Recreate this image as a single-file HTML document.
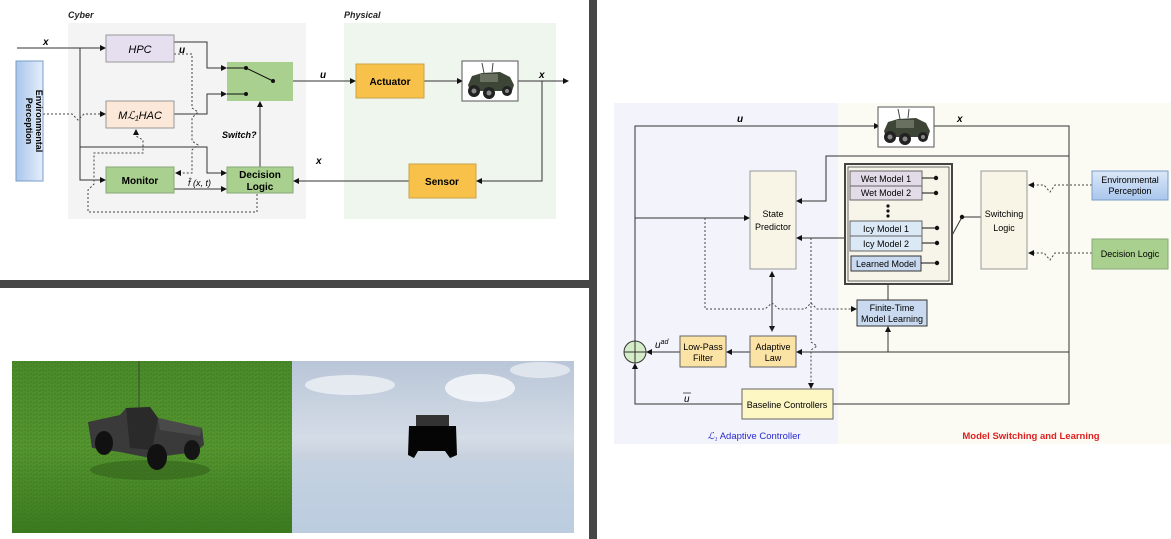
<!DOCTYPE html>
<html><head><meta charset="utf-8"><style>
html,body{margin:0;padding:0;background:#fff;}
svg{display:block;}
text{font-family:"Liberation Sans",sans-serif;}
</style></head><body>
<svg width="1171" height="539" viewBox="0 0 1171 539" xmlns="http://www.w3.org/2000/svg">
<defs>
<marker id="a" markerWidth="6" markerHeight="6" refX="5" refY="3" orient="auto" markerUnits="userSpaceOnUse"><path d="M0,0 L6,3 L0,6 z" fill="#111"/></marker>
<linearGradient id="env" x1="0" y1="0" x2="1" y2="0"><stop offset="0" stop-color="#a9c6ec"/><stop offset="1" stop-color="#e4eefa"/></linearGradient>
<linearGradient id="env2" x1="0" y1="0" x2="0" y2="1"><stop offset="0" stop-color="#dce8f8"/><stop offset="1" stop-color="#a9c6ec"/></linearGradient>
<linearGradient id="grass" x1="0" y1="0" x2="0" y2="1"><stop offset="0" stop-color="#4a8a2a"/><stop offset="0.5" stop-color="#55952f"/><stop offset="1" stop-color="#3c7a20"/></linearGradient>
<linearGradient id="sky" x1="0" y1="0" x2="0" y2="1"><stop offset="0" stop-color="#b9c6d8"/><stop offset="0.45" stop-color="#d4dce6"/><stop offset="0.55" stop-color="#c8d2de"/><stop offset="1" stop-color="#b6c8dc"/></linearGradient>
<pattern id="gt" width="6" height="4" patternUnits="userSpaceOnUse"><rect width="6" height="4" fill="none"/><path d="M0,3 L2,1 M3,4 L5,2" stroke="#2f6a18" stroke-width="0.8" opacity="0.5"/></pattern>
<g id="car">
<rect x="0" y="0" width="56" height="40" fill="#fff" stroke="#555"/>
<path d="M6,24 L10,15 L20,12 L38,11 L48,16 L52,24 L50,30 L8,30 z" fill="#3d4536"/>
<rect x="18" y="13" width="18" height="8" fill="#6a7060"/>
<circle cx="12" cy="30" r="6" fill="#222"/><circle cx="27" cy="32" r="6" fill="#222"/><circle cx="45" cy="30" r="5" fill="#222"/>
<circle cx="12" cy="30" r="2.5" fill="#888"/><circle cx="27" cy="32" r="2.5" fill="#888"/><circle cx="45" cy="30" r="2" fill="#888"/>
<line x1="22" y1="12" x2="20" y2="2" stroke="#444"/><line x1="30" y1="11" x2="31" y2="2" stroke="#444"/>
</g>
</defs>

<rect x="0" y="280" width="590" height="8" fill="#464646"/>
<rect x="589" y="0" width="8" height="539" fill="#464646"/>

<rect x="68" y="23" width="238" height="196" fill="#f4f4f4"/>
<rect x="344" y="23" width="212" height="196" fill="#eff6ee"/>
<text x="68" y="18" font-size="9" font-weight="bold" font-style="italic" fill="#222">Cyber</text>
<text x="344" y="18" font-size="9" font-weight="bold" font-style="italic" fill="#222">Physical</text>

<g stroke="#333" stroke-width="1" fill="none">
<line x1="17" y1="48" x2="105" y2="48" marker-end="url(#a)"/>
<polyline points="80,48 80,180 105,180" marker-end="url(#a)"/>
<polyline points="80,147 207,147 207,173 226,173" marker-end="url(#a)"/>
<polyline points="174,42 207,42 207,68 226,68" marker-end="url(#a)"/>
<polyline points="174,114 207,114 207,94 226,94" marker-end="url(#a)"/>
<line x1="273" y1="81" x2="355" y2="81" marker-end="url(#a)"/>
<line x1="424" y1="81" x2="462" y2="81" marker-end="url(#a)"/>
<line x1="518" y1="81" x2="568" y2="81" marker-end="url(#a)"/>
<polyline points="542,81 542,181 477,181" marker-end="url(#a)"/>
<line x1="409" y1="181" x2="294" y2="181" marker-end="url(#a)"/>
<line x1="260" y1="167" x2="260" y2="102" marker-end="url(#a)"/>
<line x1="174" y1="189" x2="226" y2="189" marker-end="url(#a)"/>
</g>
<g stroke="#444" stroke-width="1" fill="none" stroke-dasharray="2,2">
<polyline points="43,114 72,114 78,120 84,114 105,114" marker-end="url(#a)"/>
<polyline points="174,54 192,54 192,108 198,112 192,118 192,141 198,145 192,150 192,173 176,173" marker-end="url(#a)"/>
<polyline points="257,194 257,212 88,212 88,190 94,184 94,153 143,153 143,140 136,136 136,130" marker-end="url(#a)"/>
</g>

<rect x="106" y="35" width="68" height="27" fill="#e6dff0" stroke="#999"/>
<text x="140" y="53" font-size="11" font-style="italic" text-anchor="middle" font-family="Liberation Serif,serif">HPC</text>
<rect x="106" y="101" width="68" height="27" fill="#fbe8d8" stroke="#999"/>
<text x="140" y="119" font-size="11" font-style="italic" text-anchor="middle" font-family="Liberation Serif,serif">Mℒ₁HAC</text>
<rect x="106" y="167" width="68" height="26" fill="#a9d08e" stroke="#88a878"/>
<text x="140" y="184" font-size="10" font-weight="bold" text-anchor="middle">Monitor</text>
<rect x="227" y="167" width="66" height="26" fill="#a9d08e" stroke="#88a878"/>
<text x="260" y="178" font-size="10" font-weight="bold" text-anchor="middle">Decision</text>
<text x="260" y="190" font-size="10" font-weight="bold" text-anchor="middle">Logic</text>
<rect x="227" y="62" width="66" height="39" fill="#a9d08e"/>
<g stroke="#111"><line x1="227" y1="68" x2="246" y2="68"/><line x1="227" y1="94" x2="246" y2="94"/><line x1="246" y1="68" x2="273" y2="81"/></g>
<circle cx="246" cy="68" r="2" fill="#111"/><circle cx="246" cy="94" r="2" fill="#111"/><circle cx="273" cy="81" r="2" fill="#111"/>
<rect x="356" y="64" width="68" height="34" fill="#f7c14a" stroke="#c9a24a"/>
<text x="390" y="85" font-size="10" font-weight="bold" text-anchor="middle">Actuator</text>
<rect x="409" y="164" width="67" height="34" fill="#f7c14a" stroke="#c9a24a"/>
<text x="442" y="185" font-size="10" font-weight="bold" text-anchor="middle">Sensor</text>
<use href="#car" x="462" y="61"/>
<rect x="16" y="61" width="27" height="120" fill="url(#env)" stroke="#7a9cc8"/>
<text transform="translate(36,121) rotate(90)" font-size="9" font-weight="bold" text-anchor="middle">Environmental</text>
<text transform="translate(26,121) rotate(90)" font-size="9" font-weight="bold" text-anchor="middle">Perception</text>
<text x="43" y="45" font-size="10" font-weight="bold" font-style="italic">x</text>
<text x="179" y="53" font-size="10" font-weight="bold" font-style="italic">u</text>
<text x="320" y="78" font-size="10" font-weight="bold" font-style="italic">u</text>
<text x="539" y="78" font-size="10" font-weight="bold" font-style="italic">x</text>
<text x="316" y="164" font-size="10" font-weight="bold" font-style="italic">x</text>
<text x="222" y="138" font-size="9" font-weight="bold" font-style="italic">Switch?</text>
<text x="188" y="186" font-size="9" font-style="italic" font-family="Liberation Serif,serif">f̂ (x, t)</text>

<rect x="12" y="361" width="280" height="172" fill="url(#grass)"/>
<rect x="12" y="361" width="280" height="172" fill="url(#gt)"/>
<line x1="139" y1="361" x2="139" y2="410" stroke="#333" stroke-width="0.7"/>
<ellipse cx="150" cy="470" rx="60" ry="10" fill="#2e5a18" opacity="0.5"/>
<path d="M88,422 L120,415 L126,408 L150,407 L158,418 L202,428 L204,445 L195,452 L150,458 L120,452 L92,448 z" fill="#3a3a3a"/>
<path d="M126,408 L150,407 L158,418 L152,450 L130,448 z" fill="#2a2a2a"/>
<path d="M158,418 L202,428 L200,436 L160,430 z" fill="#4a4a4a"/>
<ellipse cx="104" cy="443" rx="9" ry="12" fill="#111"/>
<ellipse cx="157" cy="457" rx="10" ry="13" fill="#111"/>
<ellipse cx="192" cy="450" rx="8" ry="10" fill="#151515"/>
<rect x="292" y="361" width="282" height="172" fill="url(#sky)"/>
<ellipse cx="350" cy="385" rx="45" ry="10" fill="#eef1f5" opacity="0.8"/>
<ellipse cx="480" cy="388" rx="35" ry="14" fill="#f3f5f8" opacity="0.9"/>
<ellipse cx="540" cy="370" rx="30" ry="8" fill="#eef1f5" opacity="0.7"/>
<rect x="292" y="460" width="282" height="73" fill="#c2d2e4" opacity="0.5"/>
<rect x="416" y="415" width="33" height="12" fill="#333"/>
<path d="M409,426 L456,426 L457,455 L450,458 L445,451 L418,451 L414,458 L408,455 z" fill="#050505"/>

<rect x="614" y="103" width="224" height="341" fill="#f3f3fb"/>
<rect x="838" y="103" width="333" height="341" fill="#fbfbf3"/>
<g stroke="#333" stroke-width="1" fill="none">
<polyline points="635,341 635,126 879,126" marker-end="url(#a)"/>
<polyline points="932,126 1069,126 1069,404 833,404"/>
<polyline points="1069,156 826,156 826,201 797,201" marker-end="url(#a)"/>
<line x1="635" y1="218" x2="749" y2="218" marker-end="url(#a)"/>
<line x1="845" y1="238" x2="797" y2="238" marker-end="url(#a)"/>
<line x1="772" y1="274" x2="772" y2="331" marker-end="url(#a)"/>
<line x1="772" y1="331" x2="772" y2="272" marker-end="url(#a)"/>
<line x1="1069" y1="352" x2="797" y2="352" marker-end="url(#a)"/>
<line x1="888" y1="352" x2="888" y2="327" marker-end="url(#a)"/>
<line x1="888" y1="300" x2="888" y2="272" marker-end="url(#a)"/>
<line x1="750" y1="352" x2="727" y2="352" marker-end="url(#a)"/>
<line x1="680" y1="352" x2="647" y2="352" marker-end="url(#a)"/>
<polyline points="742,404 635,404 635,364" marker-end="url(#a)"/>
<polyline points="937,263 962,217 981,217"/>
</g>
<g stroke="#444" stroke-width="1" fill="none" stroke-dasharray="2,2">
<polyline points="705,218 705,309 765,309 772,303 779,309 805,309 811,303 817,309 856,309" marker-end="url(#a)"/>
<polyline points="811,238 811,342 817,346 811,350 811,388" marker-end="url(#a)"/>
<polyline points="1092,185 1055,185 1050,192 1044,185 1029,185" marker-end="url(#a)"/>
<polyline points="1092,253 1055,253 1050,260 1044,253 1029,253" marker-end="url(#a)"/>
</g>
<use href="#car" x="878" y="107"/>
<rect x="750" y="171" width="46" height="98" fill="#f8f4e6" stroke="#999"/>
<text x="773" y="217" font-size="9" text-anchor="middle">State</text>
<text x="773" y="230" font-size="9" text-anchor="middle">Predictor</text>
<rect x="845" y="164" width="107" height="120" fill="#f7f4ea" stroke="#444" stroke-width="2"/>
<rect x="848" y="167" width="101" height="114" fill="none" stroke="#444" stroke-width="0.8"/>
<rect x="850" y="171" width="72" height="15" fill="#e4dbe8" stroke="#666"/>
<text x="886" y="182" font-size="9" text-anchor="middle">Wet Model 1</text>
<rect x="850" y="186" width="72" height="14" fill="#e4dbe8" stroke="#666"/>
<text x="886" y="196" font-size="9" text-anchor="middle">Wet Model 2</text>
<circle cx="888" cy="206" r="1.6" fill="#111"/><circle cx="888" cy="211" r="1.6" fill="#111"/><circle cx="888" cy="216" r="1.6" fill="#111"/>
<rect x="850" y="221" width="72" height="15" fill="#dbe8f5" stroke="#666"/>
<text x="886" y="232" font-size="9" text-anchor="middle">Icy Model 1</text>
<rect x="850" y="236" width="72" height="15" fill="#dbe8f5" stroke="#666"/>
<text x="886" y="247" font-size="9" text-anchor="middle">Icy Model 2</text>
<rect x="851" y="256" width="70" height="15" fill="#c9daf0" stroke="#333"/>
<text x="886" y="267" font-size="9" text-anchor="middle">Learned Model</text>
<g stroke="#111"><line x1="922" y1="178" x2="936" y2="178"/><line x1="922" y1="193" x2="936" y2="193"/><line x1="922" y1="228" x2="937" y2="228"/><line x1="922" y1="243" x2="937" y2="243"/><line x1="921" y1="263" x2="937" y2="263"/></g>
<circle cx="936" cy="178" r="2.2" fill="#111"/><circle cx="936" cy="193" r="2.2" fill="#111"/><circle cx="937" cy="228" r="2.2" fill="#111"/><circle cx="937" cy="243" r="2.2" fill="#111"/><circle cx="937" cy="263" r="2.2" fill="#111"/><circle cx="962" cy="217" r="2.2" fill="#111"/>
<rect x="981" y="171" width="46" height="98" fill="#f8f4e6" stroke="#999"/>
<text x="1004" y="217" font-size="9" text-anchor="middle">Switching</text>
<text x="1004" y="231" font-size="9" text-anchor="middle">Logic</text>
<rect x="1092" y="171" width="76" height="29" fill="url(#env2)" stroke="#7a9cc8"/>
<text x="1130" y="183" font-size="9" text-anchor="middle">Environmental</text>
<text x="1130" y="194" font-size="9" text-anchor="middle">Perception</text>
<rect x="1092" y="239" width="76" height="30" fill="#a9d08e" stroke="#88a878"/>
<text x="1130" y="257" font-size="9" text-anchor="middle">Decision Logic</text>
<rect x="857" y="300" width="70" height="26" fill="#c9daf0" stroke="#333"/>
<text x="892" y="311" font-size="9" text-anchor="middle">Finite-Time</text>
<text x="892" y="322" font-size="9" text-anchor="middle">Model Learning</text>
<rect x="750" y="336" width="46" height="31" fill="#fbe3a6" stroke="#666"/>
<text x="773" y="350" font-size="9" text-anchor="middle">Adaptive</text>
<text x="773" y="361" font-size="9" text-anchor="middle">Law</text>
<rect x="680" y="336" width="46" height="31" fill="#fbe3a6" stroke="#666"/>
<text x="703" y="350" font-size="9" text-anchor="middle">Low-Pass</text>
<text x="703" y="361" font-size="9" text-anchor="middle">Filter</text>
<circle cx="635" cy="352" r="11" fill="#d5ecc8" stroke="#333"/>
<line x1="624" y1="352" x2="646" y2="352" stroke="#333"/><line x1="635" y1="341" x2="635" y2="363" stroke="#333"/>
<rect x="742" y="389" width="91" height="30" fill="#fdf7c4" stroke="#666"/>
<text x="787" y="408" font-size="9" text-anchor="middle">Baseline Controllers</text>
<text x="737" y="122" font-size="10" font-weight="bold" font-style="italic">u</text>
<text x="957" y="122" font-size="10" font-weight="bold" font-style="italic">x</text>
<text x="655" y="348" font-size="10" font-style="italic">u<tspan font-size="7" dy="-4">ad</tspan></text>
<text x="684" y="402" font-size="10" font-style="italic" font-family="Liberation Serif,serif">u</text>
<line x1="683" y1="393" x2="691" y2="393" stroke="#333" stroke-width="0.8"/>
<text x="754" y="439" font-size="9.5" fill="#2a2ad0" text-anchor="middle"><tspan font-style="italic" font-family="Liberation Serif,serif">ℒ₁</tspan> Adaptive Controller</text>
<text x="1031" y="439" font-size="9.5" font-weight="bold" fill="#e02020" text-anchor="middle">Model Switching and Learning</text>
</svg>
</body></html>
